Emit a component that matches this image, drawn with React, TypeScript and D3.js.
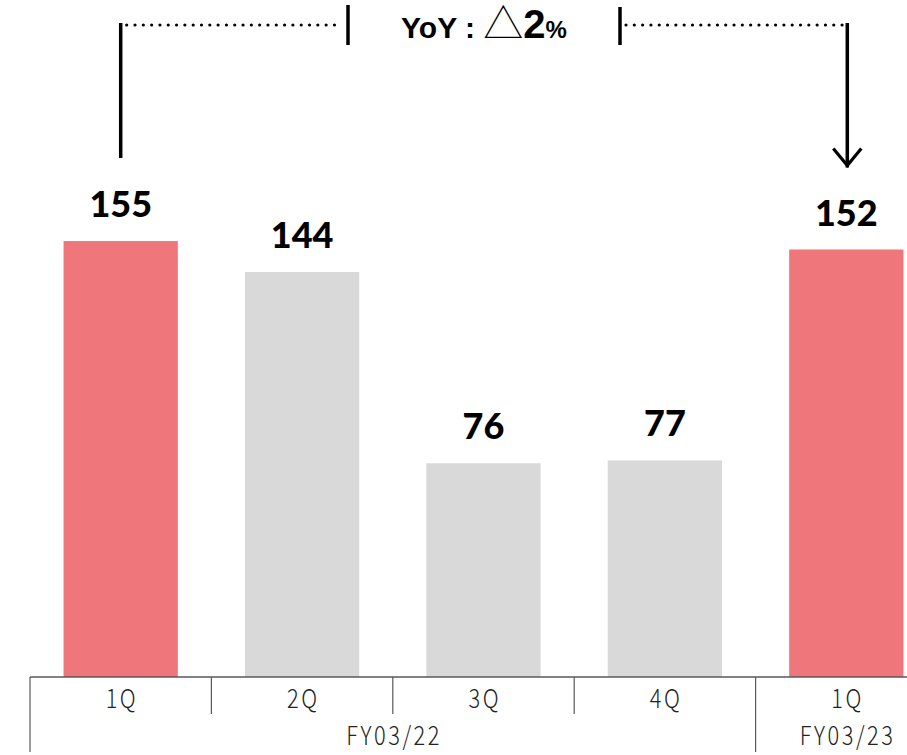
import React from "react";
import * as d3 from "d3";

// Quarterly figures (FY03/22 1Q–4Q, FY03/23 1Q)
const periodKeys = ["FY22-1Q", "FY22-2Q", "FY22-3Q", "FY22-4Q", "FY23-1Q"];
const quarterLabels = ["1Q", "2Q", "3Q", "4Q", "1Q"];
const values = [155, 144, 76, 77, 152];
const highlighted = [true, false, false, false, true];
const fiscalYears = ["FY03/22", "FY03/23"];
const fiscalYearSpans = [
  [0, 3],
  [4, 4],
];
const yoyPrefix = "YoY : ";
const yoySymbol = "△";
const yoyValue = "2";
const yoyUnit = "%";

const W = 907;
const H = 755;
const baseY = 677;

const RED = "#EF767B";
const GREY = "#D9D9D9";
const AXIS = "#595959";

export default function App() {
  const x = d3
    .scaleBand<string>()
    .domain(periodKeys)
    .range([30, 937])
    .paddingInner(0.37)
    .paddingOuter(0.185);
  const y = d3.scaleLinear().domain([0, 160]).range([baseY, 227]);

  const step = x.step();
  const bw = x.bandwidth();
  const left = (i: number) => (x(periodKeys[i]) as number) - (step * 0.37) / 2;
  const center = (i: number) => (x(periodKeys[i]) as number) + bw / 2;

  // separators between quarters (short) and fiscal years (long)
  const yearStarts = new Set(fiscalYearSpans.map((s) => s[0]));
  const separators = periodKeys.map((_, i) => ({
    x: left(i),
    long: yearStarts.has(i),
  }));

  const firstX = center(0);
  const lastX = center(values.length - 1);
  const lineY = 25;
  const bracketL = 348;
  const bracketR = 620;
  const arrowEnd = y(values[values.length - 1]) - 82;

  const axisFont = "'Noto Sans CJK JP', 'Noto Sans', sans-serif";
  const condensed = 0.84;
  const spacing = 3;

  return (
    <svg
      width={W}
      height={H}
      style={{ position: "absolute", left: 0, top: 0, background: "#fff" }}
    >
      {/* bars */}
      {values.map((v, i) => (
        <rect
          key={periodKeys[i]}
          x={x(periodKeys[i])}
          y={y(v)}
          width={bw}
          height={baseY - y(v)}
          fill={highlighted[i] ? RED : GREY}
        />
      ))}

      {/* value labels */}
      {values.map((v, i) => (
        <text
          key={"v" + periodKeys[i]}
          x={center(i)}
          y={y(v) - 24}
          textAnchor="middle"
          fontFamily="Lato, 'Open Sans', sans-serif"
          fontWeight={900}
          fontSize={36}
          fill="#000"
        >
          {v}
        </text>
      ))}

      {/* category axis */}
      <line x1={30} x2={W} y1={baseY} y2={baseY} stroke={AXIS} strokeWidth={1.5} />
      {separators.map((s, i) => (
        <line
          key={"s" + i}
          x1={s.x}
          x2={s.x}
          y1={baseY}
          y2={s.long ? 752 : 714}
          stroke={AXIS}
          strokeWidth={1.2}
        />
      ))}
      {quarterLabels.map((q, i) => (
        <text
          key={"q" + i}
          transform={`translate(${center(i) + (spacing * condensed) / 2},708) scale(${condensed},1)`}
          textAnchor="middle"
          fontFamily={axisFont}
          fontWeight={300}
          fontSize={26}
          letterSpacing={spacing}
          fill="#222"
        >
          {q}
        </text>
      ))}
      {fiscalYears.map((fy, j) => {
        const [a, b] = fiscalYearSpans[j];
        const cx = (left(a) + left(b) + step) / 2 + (spacing * condensed) / 2;
        return (
          <text
            key={fy}
            transform={`translate(${cx},745) scale(${condensed},1)`}
            textAnchor="middle"
            fontFamily={axisFont}
            fontWeight={300}
            fontSize={26}
            letterSpacing={spacing}
            fill="#222"
          >
            {fy}
          </text>
        );
      })}

      {/* YoY bracket */}
      <g stroke="#000" fill="none">
        <line x1={firstX} x2={firstX} y1={lineY - 2} y2={158} strokeWidth={3.5} />
        <line
          x1={firstX + 6}
          x2={bracketL - 6}
          y1={lineY}
          y2={lineY}
          strokeWidth={3.2}
          strokeDasharray="0.01 8.3"
          strokeLinecap="round"
        />
        <line x1={bracketL} x2={bracketL} y1={5} y2={45} strokeWidth={3.5} />
        <line x1={bracketR} x2={bracketR} y1={7} y2={45} strokeWidth={3.5} />
        <line
          x1={bracketR + 6}
          x2={lastX - 4}
          y1={lineY}
          y2={lineY}
          strokeWidth={3.2}
          strokeDasharray="0.01 8.3"
          strokeLinecap="round"
        />
        <line x1={lastX + 1} x2={lastX + 1} y1={lineY - 2} y2={arrowEnd} strokeWidth={3.5} />
        <polyline
          points={`${lastX - 13},${arrowEnd - 19} ${lastX + 1},${arrowEnd - 2} ${lastX + 15},${arrowEnd - 19}`}
          strokeWidth={3.2}
        />
      </g>

      <text
        x={484}
        y={38}
        textAnchor="middle"
        fontFamily="'Liberation Sans', Arial, sans-serif"
        fontWeight={700}
        fill="#000"
      >
        <tspan fontSize={30}>{yoyPrefix}</tspan>
        <tspan fontFamily="'Noto Sans CJK JP', sans-serif" fontWeight={300} fontSize={40}>
          {yoySymbol}
        </tspan>
        <tspan fontSize={40}>{yoyValue}</tspan>
        <tspan fontSize={24}>{yoyUnit}</tspan>
      </text>
    </svg>
  );
}
